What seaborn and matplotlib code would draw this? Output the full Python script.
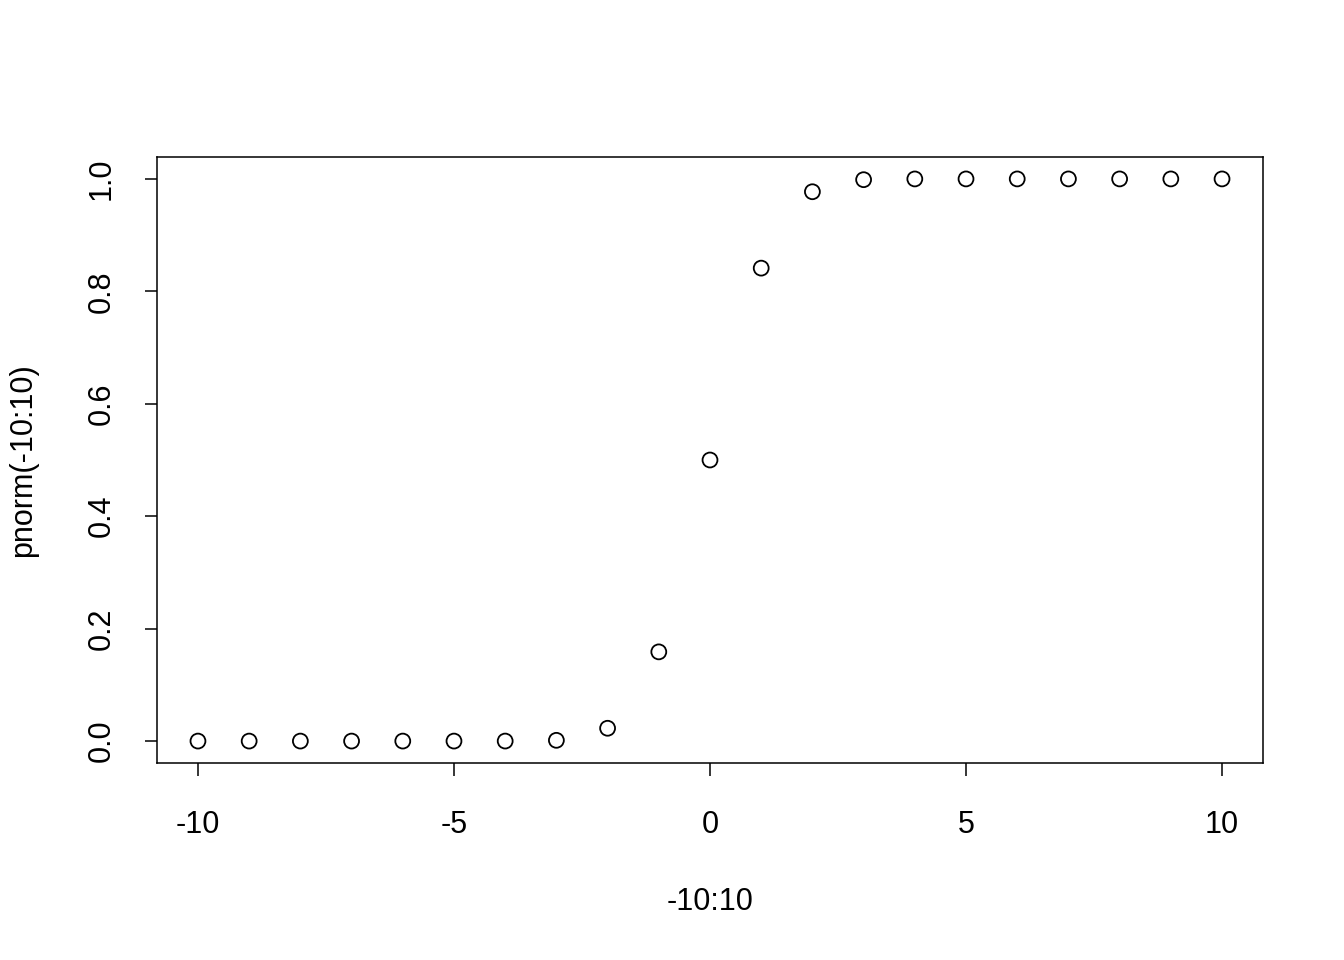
import matplotlib
matplotlib.use("Agg")
import matplotlib.pyplot as plt
import seaborn as sns
import pandas as pd

# values
x_vals = [-10, -9, -8, -7, -6, -5, -4, -3, -2, -1, 0, 1, 2, 3, 4, 5, 6, 7, 8, 9, 10]
y_vals = [0.0, 0.0, 0.0, 0.0, 0.0, 0.0, 0.00003, 0.00135, 0.0228, 0.1587, 0.5,
          0.8413, 0.9772, 0.99865, 0.99997, 1.0, 1.0, 1.0, 1.0, 1.0, 1.0]
x_ticks = [-10, -5, 0, 5, 10]
y_ticks = [0.0, 0.2, 0.4, 0.6, 0.8, 1.0]

sns.set_style("white")
plt.rcParams["font.family"] = ["Liberation Sans", "DejaVu Sans"]
plt.rcParams["text.color"] = "black"
plt.rcParams["axes.labelcolor"] = "black"
plt.rcParams["xtick.color"] = "black"
plt.rcParams["ytick.color"] = "black"

df = pd.DataFrame({"x": x_vals, "y": y_vals})

fig = plt.figure(figsize=(13.44, 9.6), dpi=100)
ax = fig.add_axes([157 / 1344, 1 - 763 / 960, (1263 - 157) / 1344, (763 - 157) / 960])

sns.scatterplot(data=df, x="x", y="y", ax=ax, s=115, marker="o",
                facecolors="none", edgecolor="black", linewidth=1.3)

ax.set_xlim(-10.8, 10.8)
ax.set_ylim(-0.039, 1.039)
ax.set_xticks(x_ticks)
ax.set_xticklabels([str(t) for t in x_ticks])
ax.set_yticks(y_ticks)
ax.set_yticklabels([f"{t:.1f}" for t in y_ticks], rotation=90, va="center")
ax.tick_params(axis="x", direction="out", length=9, width=1.1,
               labelsize=22, pad=25, bottom=True)
ax.tick_params(axis="y", direction="out", length=9, width=1.1,
               labelsize=22, pad=20, left=True)
for sp in ax.spines.values():
    sp.set_color("black")
    sp.set_linewidth(1.1)

ax.set_xlabel("-10:10", fontsize=22, labelpad=34)
ax.set_ylabel("pnorm(-10:10)", fontsize=22, labelpad=35)

fig.savefig("out.png", dpi=100)
